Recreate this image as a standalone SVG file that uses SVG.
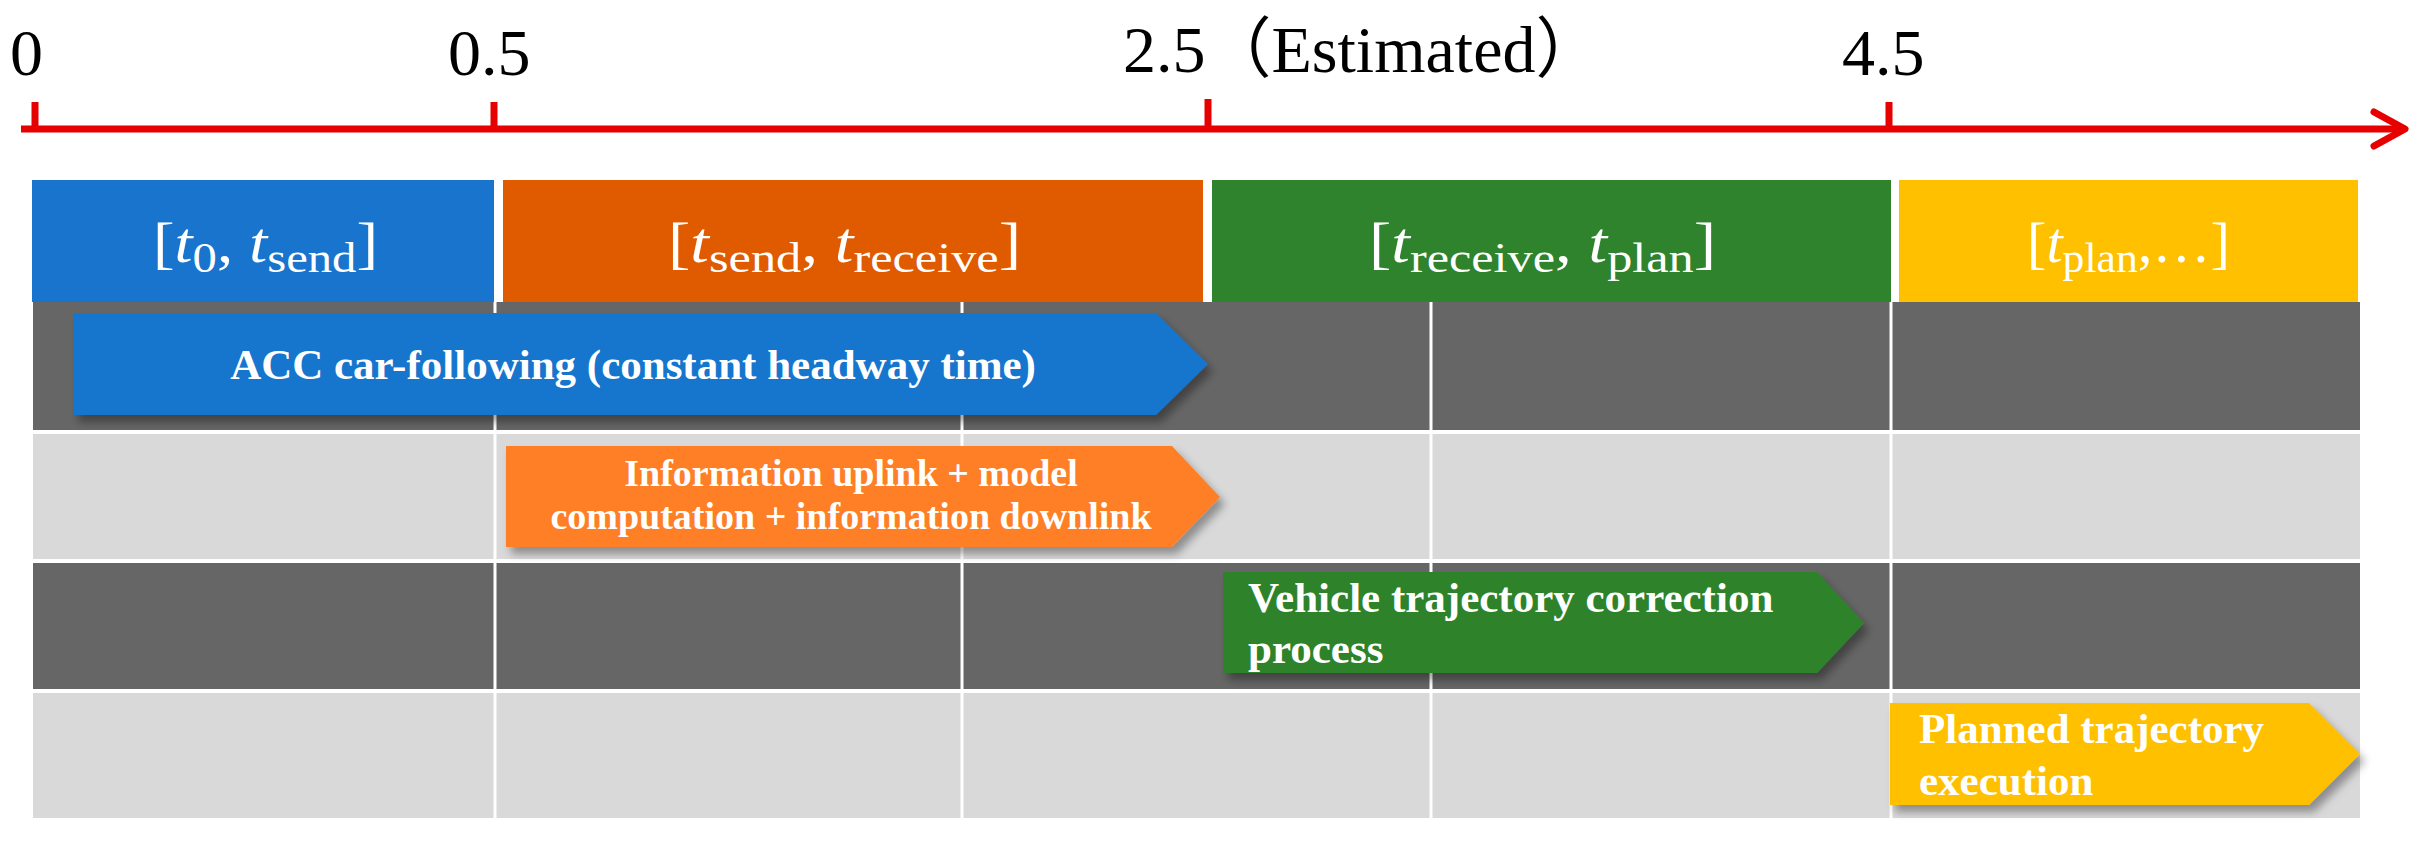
<svg xmlns="http://www.w3.org/2000/svg" width="2426" height="842" viewBox="0 0 2426 842">
<defs>
<style>
.tick{font-family:"Liberation Serif","Noto Sans CJK SC",serif;font-size:66px;fill:#000}
.hdr{font-family:"Liberation Serif",serif;font-size:56px;fill:#fff}
.hdr .it{font-style:italic}
.sub{font-size:42px}
.lbl{font-family:"Liberation Serif",serif;font-weight:bold;fill:#fff}
.dark{fill:#666666}
.light{fill:#D9D9D9}
.grid{stroke:#fff;stroke-width:3}
.axis{stroke:#E60000;stroke-width:7;fill:none}
</style>
<filter id="sh" x="-5%" y="-20%" width="115%" height="150%">
<feDropShadow dx="5" dy="7" stdDeviation="4" flood-color="#000" flood-opacity="0.35"/>
</filter>
</defs>
<rect width="2426" height="842" fill="#fff"/>

<g id="connectors">
<g id="axis">
<line class="axis" x1="21" y1="129" x2="2402" y2="129"/>
<polyline class="axis" points="2374,112 2405,129 2374,146" stroke-linecap="round" stroke-linejoin="round"/>
<line class="axis" x1="35" y1="102" x2="35" y2="129" stroke-width="5"/>
<line class="axis" x1="494" y1="102" x2="494" y2="129" stroke-width="5"/>
<line class="axis" x1="1208" y1="99" x2="1208" y2="129" stroke-width="5"/>
<line class="axis" x1="1889" y1="102" x2="1889" y2="129" stroke-width="5"/>
</g>
</g>

<g id="tick-labels">
<text class="tick" x="10" y="75">0</text>
<text class="tick" x="448" y="75">0.5</text>
<text class="tick" x="1123" y="72">2.5（Estimated）</text>
<text class="tick" x="1842" y="75">4.5</text>
</g>

<g id="header-1">
<rect x="32" y="180" width="462" height="122" fill="#1874CD"/>
<text class="hdr" x="153" y="262" textLength="225" lengthAdjust="spacingAndGlyphs">[<tspan class="it">t</tspan><tspan class="sub" dy="10">0</tspan><tspan dy="-10">, </tspan><tspan class="it">t</tspan><tspan class="sub" dy="10">send</tspan><tspan dy="-10">]</tspan></text>
</g>
<g id="header-2">
<rect x="503" y="180" width="700" height="122" fill="#E05A00"/>
<text class="hdr" x="668" y="262" textLength="353" lengthAdjust="spacingAndGlyphs">[<tspan class="it">t</tspan><tspan class="sub" dy="10">send</tspan><tspan dy="-10">, </tspan><tspan class="it">t</tspan><tspan class="sub" dy="10">receive</tspan><tspan dy="-10">]</tspan></text>
</g>
<g id="header-3">
<rect x="1212" y="180" width="679" height="122" fill="#2E832C"/>
<text class="hdr" x="1369" y="262" textLength="347" lengthAdjust="spacingAndGlyphs">[<tspan class="it">t</tspan><tspan class="sub" dy="10">receive</tspan><tspan dy="-10">, </tspan><tspan class="it">t</tspan><tspan class="sub" dy="10">plan</tspan><tspan dy="-10">]</tspan></text>
</g>
<g id="header-4">
<rect x="1899" y="180" width="459" height="122" fill="#FFC000"/>
<text class="hdr" x="2027" y="262" textLength="203" lengthAdjust="spacingAndGlyphs">[<tspan class="it">t</tspan><tspan class="sub" dy="10">plan</tspan><tspan dy="-10">,…]</tspan></text>
</g>

<g id="rows">
<rect class="dark" x="33" y="302" width="2327" height="128"/>
<rect class="light" x="33" y="434" width="2327" height="125"/>
<rect class="dark" x="33" y="563" width="2327" height="126"/>
<rect class="light" x="33" y="693" width="2327" height="125"/>
<line class="grid" x1="495" y1="302" x2="495" y2="818"/>
<line class="grid" x1="962" y1="302" x2="962" y2="818"/>
<line class="grid" x1="1431" y1="302" x2="1431" y2="818"/>
<line class="grid" x1="1891" y1="302" x2="1891" y2="818"/>
</g>

<g id="bar-acc">
<polygon points="73,313 1156,313 1208,364 1156,415 73,415" fill="#1874CD" filter="url(#sh)"/>
<text class="lbl" x="633" y="379" font-size="43" text-anchor="middle">ACC car-following (constant headway time)</text>
</g>
<g id="bar-info">
<polygon points="506,446 1172,446 1220,497 1172,547 506,547" fill="#FF7F27" filter="url(#sh)"/>
<text class="lbl" font-size="38" text-anchor="middle"><tspan x="851" y="486">Information uplink + model</tspan><tspan x="851" y="529">computation + information downlink</tspan></text>
</g>
<g id="bar-correction">
<polygon points="1223,572 1817,572 1864,623 1817,673 1223,673" fill="#2E832C" filter="url(#sh)"/>
<text class="lbl" font-size="43"><tspan x="1248" y="612">Vehicle trajectory correction</tspan><tspan x="1248" y="663">process</tspan></text>
</g>
<g id="bar-execution">
<polygon points="1890,703 2309,703 2360,754 2309,805 1890,805" fill="#FFC000" filter="url(#sh)"/>
<text class="lbl" font-size="43"><tspan x="1919" y="743">Planned trajectory</tspan><tspan x="1919" y="795">execution</tspan></text>
</g>
</svg>
